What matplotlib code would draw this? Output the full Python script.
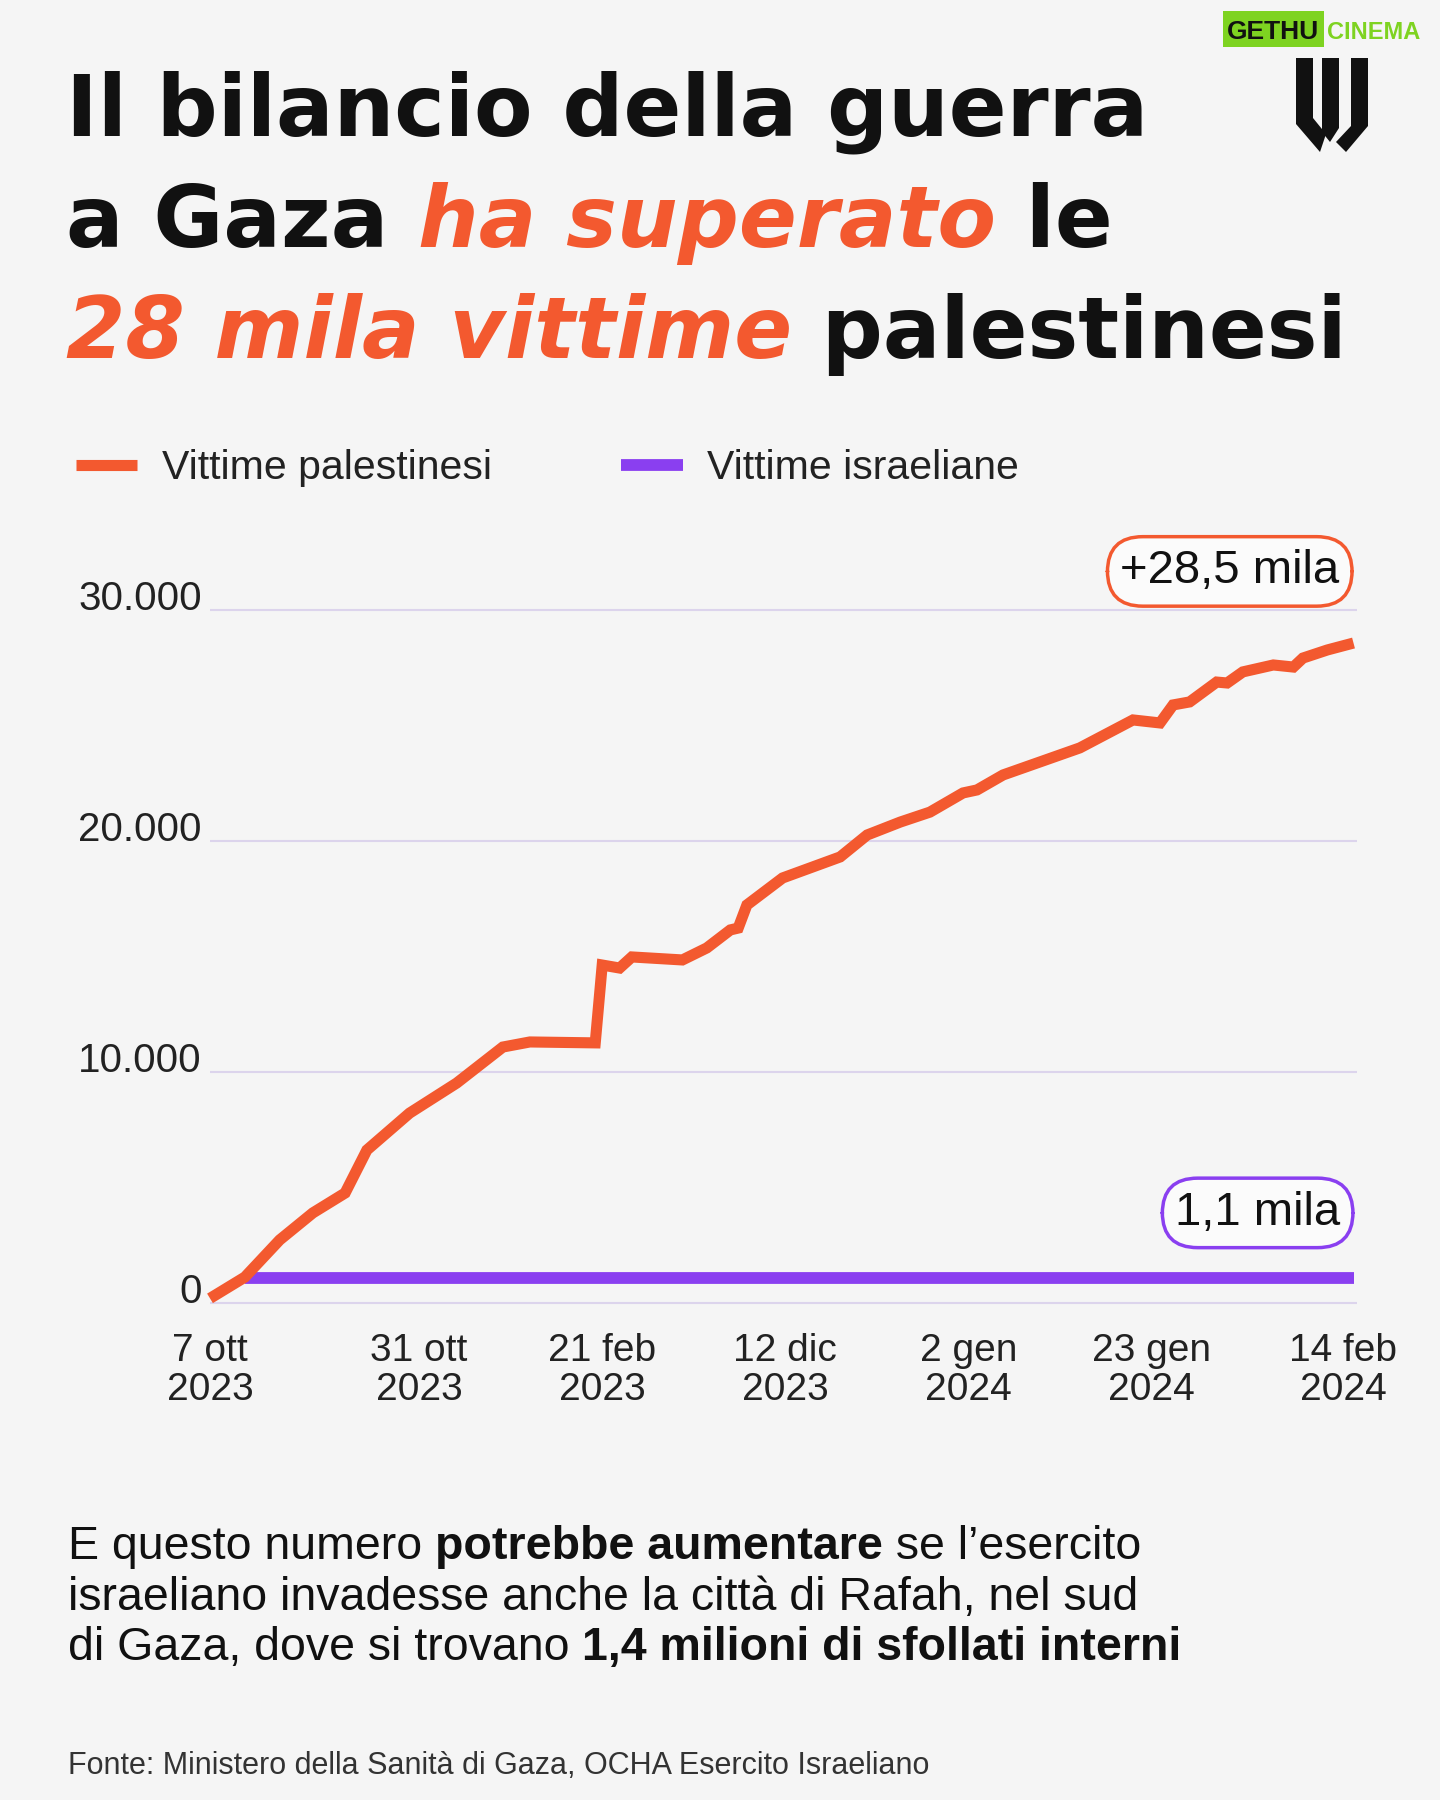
import matplotlib
matplotlib.use("Agg")
import matplotlib.pyplot as plt
from matplotlib.patches import Polygon, FancyBboxPatch

# dati (giorni dal 7 ottobre 2023)
giorni_pal = [0, 4, 8, 11.8, 15.5, 18, 22.9, 28.3, 33.6, 36.7, 44.2, 45.0, 47.0, 48.4,
              54.2, 57.0, 59.7, 60.6, 61.6, 65.7, 72.3, 75.4, 79.2, 82.6, 86.4, 88.0,
              91.0, 99.8, 105.9, 109.0, 110.5, 112.4, 115.5, 116.7, 118.5, 122.0,
              124.3, 125.4, 128.2, 131.2]
vittime_pal = [200, 1120, 2730, 3900, 4760, 6620, 8220, 9520, 11080, 11300, 11260, 14630,
               14500, 14980, 14850, 15370, 16150, 16230, 17230, 18400, 19310, 20260,
               20820, 21250, 22080, 22210, 22860, 24030, 25240, 25110, 25890, 26020,
               26880, 26840, 27320, 27620, 27530, 27920, 28270, 28570]
giorni_isr = [4, 131.2]
vittime_isr = [1100, 1100]

tick_giorni = [0, 24, 45, 66, 87, 108, 130]
tick_etichette = ["7 ott\n2023", "31 ott\n2023", "21 feb\n2023", "12 dic\n2023",
                  "2 gen\n2024", "23 gen\n2024", "14 feb\n2024"]
y_ticks = [0, 10000, 20000, 30000]
y_etichette = ["0", "10.000", "20.000", "30.000"]

ARANCIO = "#f3592f"
VIOLA = "#8a3ff0"
SFONDO = "#f5f5f5"
NERO = "#111111"
W, H = 1440, 1800

fig = plt.figure(figsize=(14.4, 18), dpi=100, facecolor=SFONDO)
body = ["Liberation Sans", "DejaVu Sans"]
titolo_font = ["DejaVu Sans"]

# grafico
ax = fig.add_axes([210 / W, 0.26072, (1357 - 210) / W, 0.42606])
ax.set_facecolor(SFONDO)
ax.set_xlim(0, 131.6)
ax.set_ylim(-1200, 32000)
for s in ax.spines.values():
    s.set_visible(False)
for v, lab in zip(y_ticks, y_etichette):
    ax.axhline(v, color="#dcd4ec", lw=1.5, zorder=1)
    ax.text(-0.007, v, lab, transform=ax.get_yaxis_transform(), ha="right",
            va="baseline", fontsize=29, family=body, color="#222222")
ax.set_yticks([])
ax.set_xticks(tick_giorni, tick_etichette)
ax.tick_params(axis="x", length=0, pad=2, labelsize=28, labelcolor="#222222")
for t in ax.get_xticklabels():
    t.set_family(body)
    t.set_linespacing(1.1)

l_isr, = ax.plot(giorni_isr, vittime_isr, color=VIOLA, lw=8.5, solid_capstyle="butt",
                 zorder=3, clip_on=False, label="Vittime israeliane")
l_pal, = ax.plot(giorni_pal, vittime_pal, color=ARANCIO, lw=8, solid_capstyle="butt",
                 solid_joinstyle="miter", zorder=4, clip_on=False, label="Vittime palestinesi")

box = dict(boxstyle="round,pad=0.27,rounding_size=0.75", fc="#fbfbfb", lw=2.5)
ax.text(117.0, 31670, "+28,5 mila", ha="center", va="center", fontsize=34, family=body,
        color=NERO, bbox=dict(box, ec=ARANCIO), zorder=5)
ax.text(120.2, 3900, "1,1 mila", ha="center", va="center", fontsize=34, family=body,
        color=NERO, bbox=dict(box, ec=VIOLA), zorder=5)

leg = ax.legend(handles=[l_pal, l_isr], ncol=2, frameon=False, loc="center left",
                bbox_to_anchor=(76 / W, 1 - 468 / H), bbox_transform=fig.transFigure,
                borderaxespad=0, borderpad=0, handlelength=1.5, handletextpad=0.6,
                columnspacing=3.15, prop=dict(family=body, size=29.5))
for t in leg.get_texts():
    t.set_color("#222222")

# testi a segmenti
fig.canvas.draw()
renderer = fig.canvas.get_renderer()


def riga(x0, y, pezzi, size, family, **kw):
    x = x0
    for testo, colore, stile, peso in pezzi:
        t = fig.text(x / W, 1 - y / H, testo, color=colore, style=stile, weight=peso,
                     fontsize=size, family=family, va="baseline", ha="left", **kw)
        x += t.get_window_extent(renderer).width


riga(66, 135, [("Il bilancio della guerra", NERO, "normal", "bold")], 61.5, titolo_font)
riga(66, 247, [("a Gaza ", NERO, "normal", "bold"), ("ha superato", ARANCIO, "italic", "bold"),
               (" le", NERO, "normal", "bold")], 61.5, titolo_font)
riga(66, 358, [("28 mila vittime", ARANCIO, "italic", "bold"),
               (" palestinesi", NERO, "normal", "bold")], 61.5, titolo_font)

riga(68, 1559, [("E questo numero ", NERO, "normal", "normal"),
                ("potrebbe aumentare", NERO, "normal", "bold"),
                (" se l\u2019esercito", NERO, "normal", "normal")], 33.5, body)
riga(68, 1610, [("israeliano invadesse anche la citt\u00e0 di Rafah, nel sud", NERO, "normal", "normal")], 33.5, body)
riga(68, 1660, [("di Gaza, dove si trovano ", NERO, "normal", "normal"),
                ("1,4 milioni di sfollati interni", NERO, "normal", "bold")], 33.5, body)
riga(68, 1774, [("Fonte: Ministero della Sanit\u00e0 di Gaza, OCHA Esercito Israeliano", "#333333",
                 "normal", "normal")], 22, body)

# logo
logo = [
    [(1296, 58), (1313, 58), (1313, 118), (1326, 134), (1320, 152), (1296, 124)],
    [(1322, 58), (1339, 58), (1339, 128), (1330, 142), (1322, 132)],
    [(1351, 58), (1368, 58), (1368, 126), (1346, 152), (1336, 142), (1351, 126)],
]
for p in logo:
    fig.patches.append(Polygon([(x / W, 1 - y / H) for x, y in p], closed=True,
                               transform=fig.transFigure, fc=NERO, ec="none"))

# filigrana
fig.patches.append(FancyBboxPatch((1223 / W, 1 - 47 / H), 101 / W, 36 / H,
                                  boxstyle="square,pad=0", transform=fig.transFigure,
                                  fc="#7ed321", ec="none"))
fig.text(1227 / W, 1 - 39 / H, "GETHU", fontsize=19, weight="bold", family=body,
         color=NERO, va="baseline")
fig.text(1327 / W, 1 - 39 / H, "CINEMA", fontsize=17, weight="bold", family=body,
         color="#7ed321", va="baseline")

fig.savefig("out.png", dpi=100, facecolor=SFONDO)
